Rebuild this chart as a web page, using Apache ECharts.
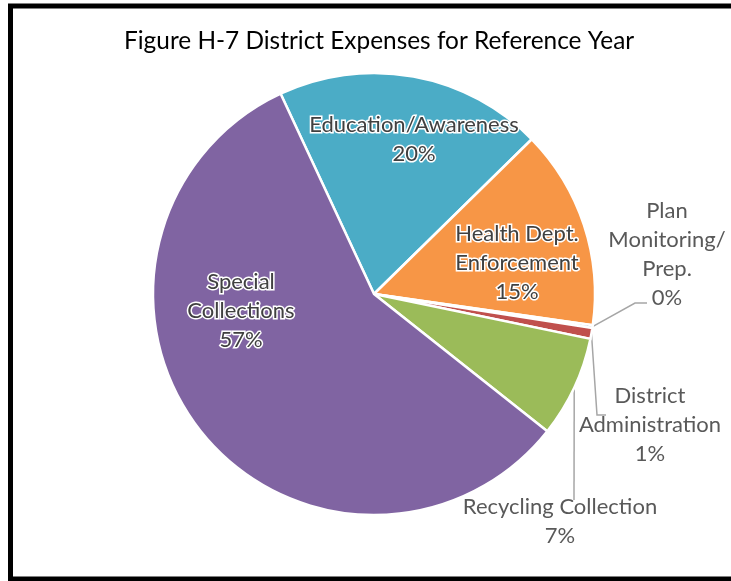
<!DOCTYPE html>
<html>
<head>
<meta charset="utf-8">
<script src="https://cdn.jsdelivr.net/npm/echarts@6/dist/echarts.min.js"></script>
<style>
  html, body { margin: 0; padding: 0; background: #fff; }
  #chart { width: 731px; height: 581px; }
</style>
</head>
<body>
<div id="chart"></div>
<script>
// Expense categories and their share of the district budget (percent)
const categories = [
  'Education/Awareness',
  'Health Dept. Enforcement',
  'Plan Monitoring/ Prep.',
  'District Administration',
  'Recycling Collection',
  'Special Collections'
];
const shares = [19.6, 14.6, 0.2, 0.8, 7.4, 57.4];
const sliceColors = ['#4BACC6', '#F79646', '#4F81BD', '#C0504D', '#9BBB59', '#8064A2'];

// How each label's text breaks across lines
const labelLines = [
  ['Education/Awareness'],
  ['Health Dept.', 'Enforcement'],
  ['Plan', 'Monitoring/', 'Prep.'],
  ['District', 'Administration'],
  ['Recycling Collection'],
  ['Special', 'Collections']
];
// Which labels sit inside their slice
const insideLabel = [true, true, false, false, false, true];

// Label centres and leader-line bends
const labelSpots = [
  { x: 414, y: 139 },
  { x: 517, y: 263 },
  { x: 667, y: 254, bend: [[635, 303], [647, 303]] },
  { x: 650, y: 425, bend: [[597, 415], [606, 415]] },
  { x: 560, y: 521, bend: [[574, 500]] },
  { x: 241, y: 311 }
];

const FONT = 'Lato, "Open Sans", sans-serif';

const chart = echarts.init(document.getElementById('chart'), null, { renderer: 'canvas' });

const data = categories.map((name, i) => ({
  name: name,
  value: shares[i],
  itemStyle: { color: sliceColors[i] },
  label: insideLabel[i]
    ? {
        position: 'inside',
        color: '#404040',
        textBorderColor: '#ffffff',
        textBorderWidth: 3
      }
    : {
        position: 'outside',
        color: '#595959'
      },
  labelLine: { show: !insideLabel[i] }
}));

chart.setOption({
  backgroundColor: '#ffffff',
  animation: false,
  title: {
    text: 'Figure H-7 District Expenses for Reference Year',
    left: 119,
    top: 24,
    textStyle: {
      fontFamily: FONT,
      fontSize: 24.4,
      fontWeight: 'normal',
      color: '#000000'
    }
  },
  graphic: [
    {
      type: 'rect',
      shape: { x: 10.5, y: 6, width: 760, height: 573 },
      style: { fill: 'none', stroke: '#000000', lineWidth: 5 },
      silent: true
    }
  ],
  series: [
    {
      type: 'pie',
      center: [374, 294],
      radius: 221,
      startAngle: 115,
      clockwise: true,
      percentPrecision: 0,
      avoidLabelOverlap: false,
      minShowLabelAngle: 0,
      itemStyle: { borderColor: '#ffffff', borderWidth: 2.5 },
      label: {
        show: true,
        fontFamily: FONT,
        fontSize: 22,
        lineHeight: 29,
        align: 'center',
        formatter: (p) => labelLines[p.dataIndex].join('\n') + '\n' + p.percent + '%'
      },
      labelLine: {
        show: true,
        lineStyle: { color: '#A6A6A6', width: 1.5 }
      },
      labelLayout: (p) => {
        const spot = labelSpots[p.dataIndex];
        const out = { x: spot.x, y: spot.y, align: 'center', verticalAlign: 'middle' };
        if (spot.bend && p.labelLinePoints) {
          out.labelLinePoints = [p.labelLinePoints[0]].concat(spot.bend);
        }
        return out;
      },
      data: data
    }
  ]
});
</script>
</body>
</html>
